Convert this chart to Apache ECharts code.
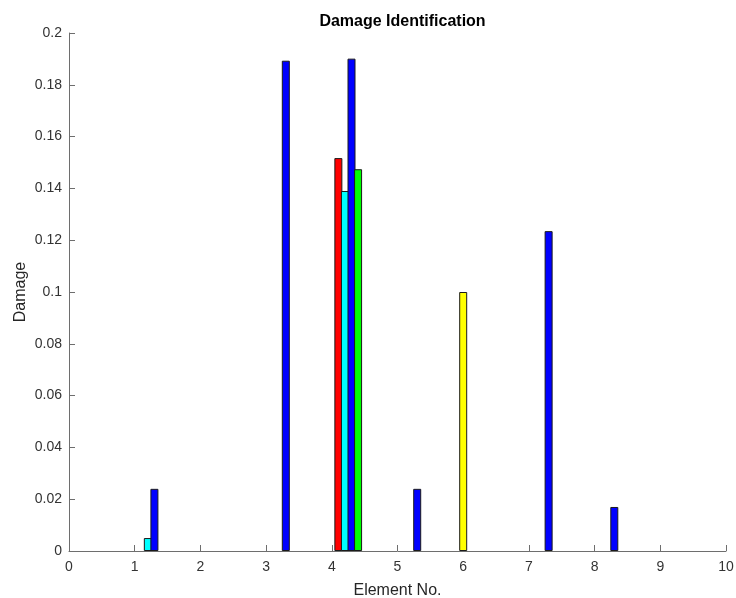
<!DOCTYPE html>
<html>
<head>
<meta charset="utf-8">
<script src="https://cdn.jsdelivr.net/npm/echarts@6/dist/echarts.min.js"></script>
<style>
html,body{margin:0;padding:0;background:#fff;}
#chart{width:736px;height:598px;}
</style>
</head>
<body>
<div id="chart"></div>
<script>
// element numbers 1..10
const elements = [1, 2, 3, 4, 5, 6, 7, 8, 9, 10];
// damage per element for each case
const yellowVals = [0, 0, 0, 0, 0, 0.100, 0, 0, 0, 0];
const redVals    = [0, 0, 0, 0.1517, 0, 0, 0, 0, 0, 0];
const cyanVals   = [0.005, 0, 0, 0.139, 0, 0, 0, 0, 0, 0];
const blueVals   = [0.024, 0, 0.1893, 0.1901, 0.024, 0, 0.1235, 0.017, 0, 0];
const greenVals  = [0, 0, 0, 0.1474, 0, 0, 0, 0, 0, 0];
const xTicks = [0, 1, 2, 3, 4, 5, 6, 7, 8, 9, 10];
const yTicks = [0, 0.02, 0.04, 0.06, 0.08, 0.1, 0.12, 0.14, 0.16, 0.18, 0.2];

const FONT = '"Liberation Sans", Arial, sans-serif';
const gridL = 69, gridR = 10, gridT = 33, gridB = 47;
const unitPx = (736 - gridL - gridR) / 10;

const groups = [
    {vals: yellowVals, color: '#ffff00', off: 0.0},
    {vals: redVals,    color: '#ff0000', off: 0.1},
    {vals: cyanVals,   color: '#00ffff', off: 0.2},
    {vals: blueVals,   color: '#0000ff', off: 0.3},
    {vals: greenVals,  color: '#00ff00', off: 0.4}
];

const chart = echarts.init(document.getElementById('chart'));
chart.setOption({
    backgroundColor: '#ffffff',
    animation: false,
    title: {
        text: 'Damage Identification', left: gridL + (736 - gridL - gridR) / 2, top: 9, textAlign: 'center',
        textStyle: {fontFamily: FONT, fontSize: 16, fontWeight: 'bold', color: '#000'}
    },
    grid: {left: gridL, right: gridR, top: gridT, bottom: gridB, containLabel: false, outerBoundsMode: 'none'},
    xAxis: {
        type: 'value', min: xTicks[0], max: xTicks[xTicks.length - 1], interval: 1,
        name: 'Element No.', nameLocation: 'middle', nameGap: 32,
        nameTextStyle: {fontFamily: FONT, fontSize: 16, color: '#262626'},
        axisLine: {show: true, onZero: false, lineStyle: {color: '#6e6e6e', width: 1}},
        axisTick: {show: true, inside: true, length: 6, lineStyle: {color: '#6e6e6e'}},
        axisLabel: {fontFamily: FONT, fontSize: 14, color: '#333', margin: 9},
        splitLine: {show: false}
    },
    yAxis: {
        type: 'value', min: yTicks[0], max: yTicks[yTicks.length - 1], interval: 0.02,
        name: 'Damage', nameLocation: 'middle', nameGap: 40, nameMoveOverlap: false,
        nameTextStyle: {fontFamily: FONT, fontSize: 16, color: '#262626'},
        axisLine: {show: true, lineStyle: {color: '#6e6e6e', width: 1}},
        axisTick: {show: true, inside: true, length: 6, lineStyle: {color: '#6e6e6e'}},
        axisLabel: {fontFamily: FONT, fontSize: 14, color: '#333', margin: 7,
            formatter: v => String(parseFloat(v.toFixed(2)))},
        splitLine: {show: false}
    },
    series: groups.map(g => ({
        type: 'bar',
        barWidth: Math.round(unitPx * 0.1) + 1,
        barGap: '-100%',
        itemStyle: {color: g.color, borderColor: '#1a1a1a', borderWidth: 1},
        data: elements.map((e, i) => [e + g.off, g.vals[i]]).filter(d => d[1] > 0)
    }))
});
</script>
</body>
</html>
